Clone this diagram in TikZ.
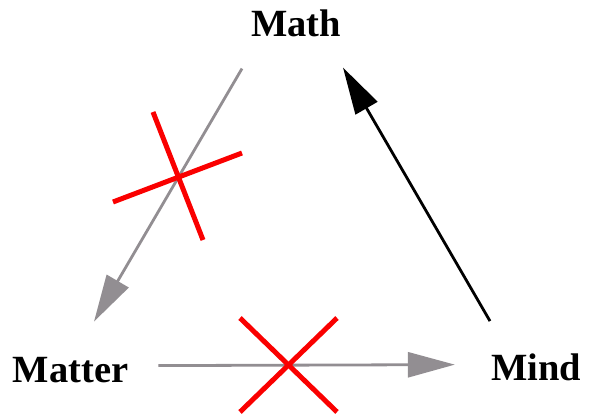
\documentclass[tikz,border=0pt]{standalone}
\usepackage{fontspec}
\setmainfont{Liberation Serif}
\usetikzlibrary{arrows.meta}
\definecolor{linkgray}{RGB}{146,142,146}
\definecolor{crossred}{RGB}{250,0,0}
\begin{document}
\begin{tikzpicture}[x=1pt,y=-1pt,
    label/.style={inner sep=0pt,anchor=base,font=\fontsize{38.5}{46}\selectfont\bfseries},
    grayarrow/.style={draw=linkgray,line width=2.8pt,-{Triangle[length=47pt,width=25pt]},fill=linkgray},
    blackarrow/.style={draw=black,line width=2.8pt,-{Triangle[length=47pt,width=25pt]}},
    cross/.style={draw=crossred,line width=5pt}]
    \useasboundingbox (0,0) rectangle (590,420);
    % Nodes
    \node[label] (math) at (296,37) {Math};
    \node[label] (matter) at (70.5,382) {Matter};
    \node[label] (mind) at (536,380) {Mind};

    % Edges
    \draw[grayarrow] ([xshift=-54pt,yshift=-31pt]math.south) -- ([xshift=23.5pt,yshift=35pt]matter.north);
    \draw[grayarrow] ([xshift=30pt,yshift=4pt]matter.east) -- ([xshift=-36pt,yshift=2.2pt]mind.west);
    \draw[blackarrow] ([xshift=-46pt,yshift=32pt]mind.north) -- ([xshift=47pt,yshift=-30pt]math.south);

    % Crosses
    \draw[cross] (113,202) -- (242,153);
    \draw[cross] (153,112) -- (203,240);
    \draw[cross] (240,318) -- (337,412);
    \draw[cross] (337,318) -- (240,412);
\end{tikzpicture}
\end{document}
